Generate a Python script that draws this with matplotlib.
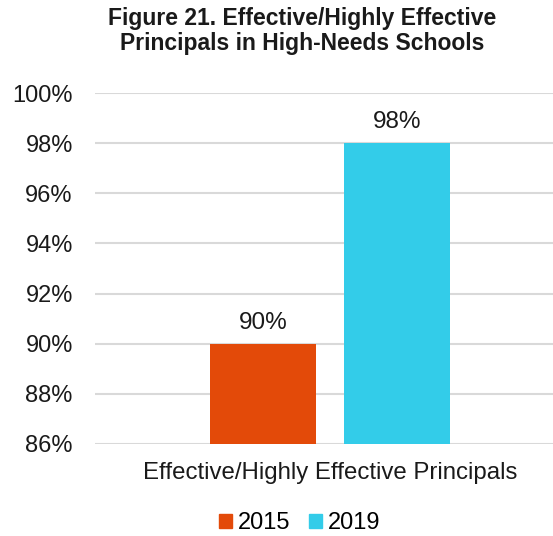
import matplotlib
matplotlib.use("Agg")
import matplotlib.pyplot as plt
from matplotlib.patches import Patch

plt.rcParams['font.family'] = ['Liberation Sans', 'DejaVu Sans']

category = "Effective/Highly Effective Principals"
series = ["2015", "2019"]
values = [90, 98]
colors = ["#E34A09", "#33CCE9"]
yticks = [86, 88, 90, 92, 94, 96, 98, 100]
title = "Figure 21. Effective/Highly Effective\nPrincipals in High-Needs Schools"

fig = plt.figure(figsize=(5.53, 5.36), dpi=100)
ax = fig.add_axes([95/553, 1-444/536, (553-95)/553, (444-93)/536])

w = 0.4
gap = 0.106
offsets = [-(w + gap)/2, (w + gap)/2]
for off, v, c in zip(offsets, values, colors):
    ax.bar(off, v - 86, bottom=86, width=w, color=c, zorder=3)
    ax.text(off, v + 0.4, f"{v}%", ha='center', va='bottom', fontsize=17.5, color='#1a1a1a')

ax.set_ylim(86, 100)
ax.set_xlim((95-330)/265, (553-330)/265)
ax.set_yticks(yticks)
ax.set_yticklabels([f"{t}%" for t in yticks], fontsize=17, color='#1a1a1a')
ax.set_xticks([0])
ax.set_xticklabels([category], fontsize=17.3, color='#1a1a1a')
ax.tick_params(axis='both', length=0)
ax.tick_params(axis='y', pad=16)
ax.tick_params(axis='x', pad=13)
ax.yaxis.grid(True, color='#D9D9D9', linewidth=1.5, zorder=0)
for s in ax.spines.values():
    s.set_visible(False)

fig.text(302/553, 1-31/536, title, ha='center', va='center', fontsize=16.5, fontweight='bold', color='#1a1a1a', linespacing=1.1)

handles = [Patch(color=c, label=s) for s, c in zip(series, colors)]
fig.legend(handles=handles, loc='center', bbox_to_anchor=(300/553, 1-523/536), ncol=2, frameon=False,
           fontsize=17, handlelength=0.55, handleheight=0.55, handletextpad=0.25, columnspacing=0.8)

fig.savefig("out.png", dpi=100)
